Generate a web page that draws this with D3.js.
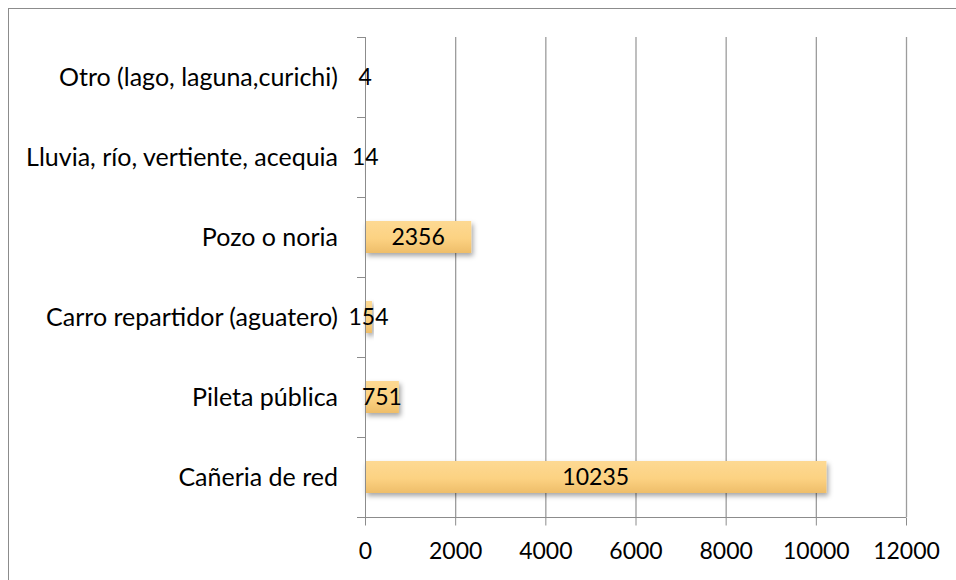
<!DOCTYPE html>
<html>
<head>
<meta charset="utf-8">
<script src="https://cdn.jsdelivr.net/npm/d3@7"></script>
<style>
  body { margin: 0; background: #fff; }
  text { font-family: Lato, "Open Sans", sans-serif; fill: #000; }
</style>
</head>
<body>
<script>
// categories bottom to top as in the picture
let categories = [
  'Cañeria de red',
  'Pileta pública',
  'Carro repartidor (aguatero)',
  'Pozo o noria',
  'Lluvia, río, vertiente, acequia',
  'Otro (lago, laguna,curichi)'
]
let values = [10235, 751, 154, 2356, 14, 4]
let xTicks = [0, 2000, 4000, 6000, 8000, 10000, 12000]

let width = 956
let height = 580
let margin = { left: 365, right: 50, top: 37, bottom: 63 }

let svg = d3.select('body')
  .append('svg')
  .attr('width', width)
  .attr('height', height)

let defs = svg.append('defs')
let grad = defs.append('linearGradient')
  .attr('id', 'barGrad')
  .attr('x1', 0).attr('y1', 0).attr('x2', 0).attr('y2', 1)
grad.append('stop').attr('offset', '0%').attr('stop-color', '#fdd993')
grad.append('stop').attr('offset', '55%').attr('stop-color', '#fcd282')
grad.append('stop').attr('offset', '100%').attr('stop-color', '#eebd69')

let shadow = defs.append('filter')
  .attr('id', 'shadow')
  .attr('x', '-20%').attr('y', '-30%').attr('width', '140%').attr('height', '180%')
shadow.append('feDropShadow')
  .attr('dx', 2).attr('dy', 3)
  .attr('stdDeviation', 2.5)
  .attr('flood-color', '#000')
  .attr('flood-opacity', 0.35)

// outer frame
svg.append('rect')
  .attr('x', 8.5).attr('y', 8.5)
  .attr('width', width + 10).attr('height', height + 10)
  .attr('fill', 'none')
  .attr('stroke', '#8c8c8c')
  .attr('stroke-width', 1)

let x = d3.scaleLinear()
  .domain([0, 12000])
  .range([margin.left, 906])

let y = d3.scaleBand()
  .domain(categories)
  .range([height - margin.bottom, margin.top])
  .paddingInner(0.6)
  .paddingOuter(0.3)

// gridlines
svg.append('g')
  .selectAll('line')
  .data(xTicks.slice(1))
  .join('line')
    .attr('x1', d => x(d) + 0.5)
    .attr('x2', d => x(d) + 0.5)
    .attr('y1', margin.top)
    .attr('y2', height - margin.bottom)
    .attr('stroke', '#9c9c9c')
    .attr('stroke-width', 1.3)

// bars
svg.append('g')
  .selectAll('rect')
  .data(values)
  .join('rect')
    .attr('x', x(0))
    .attr('y', (d, i) => y(categories[i]))
    .attr('width', d => x(d) - x(0))
    .attr('height', y.bandwidth())
    .attr('fill', 'url(#barGrad)')
    .attr('filter', 'url(#shadow)')

// x axis
let xAxis = d3.axisBottom(x)
  .tickValues(xTicks)
  .tickFormat(d3.format('d'))
  .tickSize(8)
  .tickPadding(17)
  .tickSizeOuter(0)

svg.append('g')
  .attr('transform', `translate(0, ${height - margin.bottom + 0.5})`)
  .call(xAxis)
  .call(g => g.select('.domain').attr('stroke', '#8c8c8c').attr('d', `M${margin.left - 8},0H${x(12000)}`))
  .call(g => g.selectAll('.tick line').attr('stroke', '#8c8c8c'))
  .call(g => g.selectAll('.tick text').attr('font-size', 23).attr('font-family', 'Lato, sans-serif'))

// y axis: ticks sit on band boundaries
let bandStep = (height - margin.bottom - margin.top) / categories.length
let yAxisG = svg.append('g')
yAxisG.append('line')
  .attr('x1', x(0) + 0.5).attr('x2', x(0) + 0.5)
  .attr('y1', margin.top).attr('y2', height - margin.bottom)
  .attr('stroke', '#8c8c8c')
yAxisG.selectAll('.ytick')
  .data(d3.range(categories.length + 1))
  .join('line')
    .attr('class', 'ytick')
    .attr('x1', x(0) - 8).attr('x2', x(0))
    .attr('y1', i => margin.top + i * bandStep + 0.5)
    .attr('y2', i => margin.top + i * bandStep + 0.5)
    .attr('stroke', '#8c8c8c')

// category labels
svg.append('g')
  .selectAll('text')
  .data(categories)
  .join('text')
    .attr('x', 338)
    .attr('y', d => y(d) + y.bandwidth() / 2)
    .attr('dy', '0.35em')
    .attr('text-anchor', 'end')
    .attr('font-size', 25)
    .text(d => d)

// value labels
svg.append('g')
  .selectAll('text')
  .data(values)
  .join('text')
    .attr('x', d => (x(d) + x(0)) / 2)
    .attr('y', (d, i) => y(categories[i]) + y.bandwidth() / 2)
    .attr('dy', '0.35em')
    .attr('text-anchor', 'middle')
    .attr('font-size', 23)
    .text(d => d)
</script>
</body>
</html>
